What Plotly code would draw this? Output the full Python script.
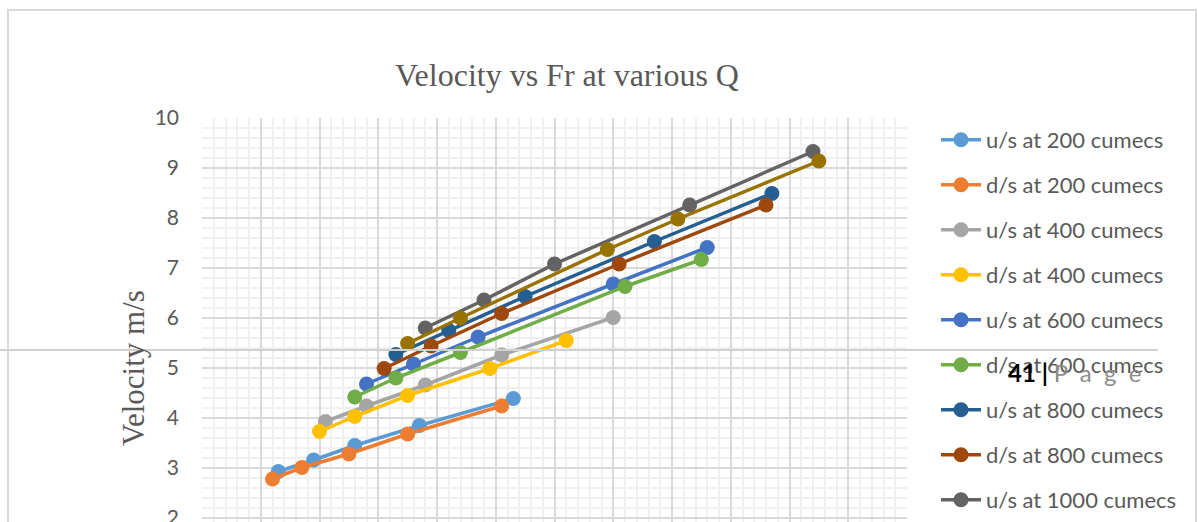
import plotly.graph_objects as go

# Froude number (x) and velocity in m/s (y) for each discharge, upstream and downstream
fr_us200 = [0.13, 0.19, 0.26, 0.37, 0.53]
v_us200 = [2.93, 3.16, 3.45, 3.85, 4.39]
fr_ds200 = [0.12, 0.17, 0.25, 0.35, 0.51]
v_ds200 = [2.78, 3.01, 3.28, 3.68, 4.24]
fr_us400 = [0.21, 0.28, 0.38, 0.51, 0.70]
v_us400 = [3.93, 4.24, 4.66, 5.26, 6.01]
fr_ds400 = [0.20, 0.26, 0.35, 0.49, 0.62]
v_ds400 = [3.73, 4.03, 4.45, 4.99, 5.55]
fr_us600 = [0.28, 0.36, 0.47, 0.70, 0.86]
v_us600 = [4.68, 5.08, 5.62, 6.68, 7.41]
fr_ds600 = [0.26, 0.33, 0.44, 0.72, 0.85]
v_ds600 = [4.42, 4.80, 5.31, 6.63, 7.17]
fr_us800 = [0.33, 0.42, 0.55, 0.77, 0.97]
v_us800 = [5.27, 5.75, 6.43, 7.53, 8.49]
fr_ds800 = [0.31, 0.39, 0.51, 0.71, 0.96]
v_ds800 = [4.99, 5.44, 6.09, 7.08, 8.26]
fr_us1000 = [0.38, 0.48, 0.60, 0.83, 1.04]
v_us1000 = [5.80, 6.36, 7.08, 8.26, 9.33]
fr_ds1000 = [0.35, 0.44, 0.69, 0.81, 1.05]
v_ds1000 = [5.49, 6.00, 7.37, 7.98, 9.14]

series_names = [
    "u/s at 200 cumecs", "d/s at 200 cumecs",
    "u/s at 400 cumecs", "d/s at 400 cumecs",
    "u/s at 600 cumecs", "d/s at 600 cumecs",
    "u/s at 800 cumecs", "d/s at 800 cumecs",
    "u/s at 1000 cumecs", "d/s at 1000 cumecs",
]
series_x = [fr_us200, fr_ds200, fr_us400, fr_ds400, fr_us600,
            fr_ds600, fr_us800, fr_ds800, fr_us1000, fr_ds1000]
series_y = [v_us200, v_ds200, v_us400, v_ds400, v_us600,
            v_ds600, v_us800, v_ds800, v_us1000, v_ds1000]
series_colors = ["#5B9BD5", "#ED7D31", "#A5A5A5", "#FFC000", "#4472C4",
                 "#70AD47", "#255E91", "#9E480E", "#636363", "#997300"]

W, H = 1198, 522
L, R, T, B = 202, 291, 118, 0
PW, PH = W - L - R, H - T - B


def px(x):
    return (x - L) / PW


def py(y):
    return (H - B - y) / PH


fig = go.Figure()
for i, (name, xs, ys, col) in enumerate(zip(series_names, series_x, series_y, series_colors)):
    fig.add_trace(go.Scatter(
        x=xs, y=ys, name=name, mode="lines+markers",
        line=dict(color=col, width=3.5),
        marker=dict(color=col, size=15),
        legendgroup=f"g{i}",
    ))

grid_major = "#D9D9D9"
grid_minor = "#F0F0F0"
tick_font = dict(family="Lato", size=21, color="#595959")

fig.update_layout(
    width=W, height=H,
    margin=dict(l=L, r=R, t=T, b=B, pad=0, autoexpand=False),
    paper_bgcolor="white", plot_bgcolor="white",
    title=dict(text="Velocity vs Fr at various Q", x=px(567), xref="paper", xanchor="center",
               y=1 - 75 / H, yref="container", yanchor="middle",
               font=dict(family="Liberation Serif", size=32, color="#595959")),
    xaxis=dict(range=[0, 1.2], dtick=0.1, showticklabels=False, ticks="",
               showgrid=True, gridcolor=grid_major, gridwidth=1.5, zeroline=False,
               showline=False,
               minor=dict(dtick=0.02, showgrid=True, gridcolor=grid_minor, gridwidth=1.5)),
    yaxis=dict(range=[2 - 4 / 50, 10], dtick=1, tickfont=tick_font, ticks="",
               ticklabelstandoff=22, ticklabeloverflow="allow",
               showgrid=True, gridcolor=grid_major, gridwidth=1.5, zeroline=False,
               showline=False,
               minor=dict(dtick=0.2, showgrid=True, gridcolor=grid_minor, gridwidth=1.5)),
    legend=dict(x=px(936), xanchor="left", y=py(119), yanchor="top",
                font=dict(family="Lato", size=22, color="#595959"),
                tracegroupgap=13.4, bgcolor="rgba(0,0,0,0)", maxheight=2000,
                itemwidth=40,
                itemclick=False, itemdoubleclick=False),
    showlegend=True,
)

# y-axis title centred on the full 0-10 velocity span
fig.add_annotation(text="Velocity m/s", textangle=-90, xref="paper", x=px(133),
                   yref="y", y=5, xanchor="center", yanchor="middle", showarrow=False,
                   font=dict(family="Liberation Serif", size=31, color="#595959"))

# chart frame
fig.add_shape(type="rect", xref="paper", yref="paper",
              x0=px(8), x1=px(1196), y0=py(560), y1=py(10),
              line=dict(color="#D9D9D9", width=2), fillcolor="rgba(0,0,0,0)", layer="below")

# page break across the page
fig.add_shape(type="line", xref="paper", yref="paper",
              x0=px(0), x1=px(1158), y0=py(350), y1=py(350),
              line=dict(color="#D0D0D0", width=2), layer="above")

# page footer
fig.add_annotation(
    text="<b>41 | </b><span style='color:#8C8C8C'>P&nbsp;&nbsp;a&nbsp;&nbsp;g&nbsp;&nbsp;e</span>",
    xref="paper", x=px(1006), yref="paper", y=py(372),
    xanchor="left", yanchor="middle", showarrow=False,
    font=dict(family="Lato", size=24, color="#000000"))

fig.write_html("out.html")
